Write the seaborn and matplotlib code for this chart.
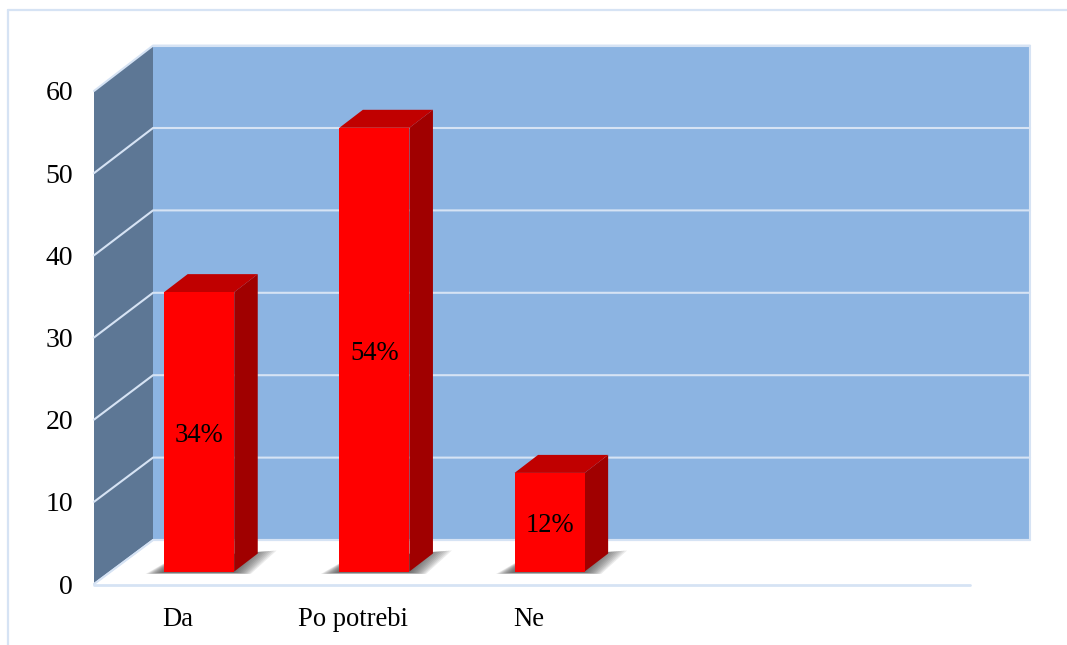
import pandas as pd
import matplotlib
matplotlib.use("Agg")
import matplotlib.pyplot as plt
import seaborn as sns

categories = ['Da', 'Po potrebi', 'Ne']
values = [34, 54, 12]
bar_labels = ['34%', '54%', '12%']
y_ticks = [0, 10, 20, 30, 40, 50, 60]

W, H = 1067, 645
LIGHT = '#d6e3f4'
WALL = '#8cb4e2'
SIDE = '#5d7795'
FONT = 'Liberation Serif'
DEPTH_X, DEPTH_Y = 23.5, 18  # pixels


def place(ax, x0, y0, x1, y1):
    # axes position given in image pixels, y going down
    ax.set_position([x0 / W, 1 - y1 / H, (x1 - x0) / W, (y1 - y0) / H])


sns.set_theme(style='white')
plt.rcParams['font.family'] = [FONT, 'DejaVu Sans']

fig = plt.figure(figsize=(W / 100, H / 100), dpi=100)

# background: walls and floor, drawn in pixel coordinates
bg = fig.add_axes([0, 0, 1, 1], zorder=0)
bg.set_xlim(0, W)
bg.set_ylim(H, 0)
bg.axis('off')
bg.plot([8, 8], [H, 10], color=LIGHT, lw=1.6)
bg.plot([8, W], [10, 10], color=LIGHT, lw=1.6)
bg.fill([153, 1030, 1030, 153], [45.5, 45.5, 540, 540], color=WALL, lw=0)
bg.plot([153, 1030, 1030, 153], [45.5, 45.5, 540, 540], color=LIGHT, lw=1.5)
bg.fill([94, 153, 153, 94], [91, 45.5, 540, 584], color=SIDE, lw=0)
bg.plot([94, 153], [584, 540], color=LIGHT, lw=1.2)
bg.plot([94, 970], [584.5, 584.5], color=LIGHT, lw=2)
for t in y_ticks:
    back_y = 540 - t * 8.24
    front_y = 584 - t * 8.217
    bg.plot([94, 153, 1030], [front_y, back_y, back_y], color=LIGHT, lw=1.5)

# axis labels
frame = fig.add_axes([0, 0, 1, 1], zorder=1)
place(frame, 94, 91, 970, 584)
frame.patch.set_visible(False)
sns.despine(ax=frame, left=True, bottom=True)
frame.set_xlim(-0.48, 4.52)
frame.set_ylim(0, 60)
frame.set_xticks(range(len(categories)), categories)
frame.set_yticks(y_ticks)
frame.tick_params(axis='y', length=0, pad=15, labelsize=20, labelcolor='black')
frame.tick_params(axis='x', length=0, pad=16.5, labelsize=19.2, labelcolor='black')

# bars, sitting a bit inside the floor
ax = fig.add_axes([0, 0, 1, 1], zorder=2)
place(ax, 111.6, 78.5, 987.6, 571.5)
df = pd.DataFrame({'answer': categories, 'value': values})
sns.barplot(data=df, x='answer', y='value', color='#ff0000', saturation=1,
            width=0.4, ax=ax, zorder=5, edgecolor='none', linewidth=0)
ax.patch.set_visible(False)
ax.set_xlim(-0.5, 4.5)
ax.set_ylim(0, 60)
ax.axis('off')

px_x = 5 / 876
px_y = 60 / 493
dx = DEPTH_X * px_x
dy = DEPTH_Y * px_y
for bar in ax.patches:
    x0, x1 = bar.get_x(), bar.get_x() + bar.get_width()
    top = bar.get_height()
    # soft shadow on the floor, stacked from wide to narrow
    for k in range(12):
        grow = (11 - k) * 1.5
        sx0 = x0 - (2 + grow) * px_x
        sx1 = x1 + (16 + grow * 1.6) * px_x
        ax.fill([sx0, x1 + grow * px_x, sx1, x0 + 10 * px_x],
                [-(2.5 - k * 0.12) * px_y, -(2.5 - k * 0.12) * px_y,
                 (21 - k * 0.2) * px_y, (14 - k * 0.2) * px_y],
                color='#404040', alpha=0.1, lw=0, zorder=2, clip_on=False)
    ax.fill([x1, x1 + dx, x1 + dx, x1], [0, dy, top + dy, top],
            color='#a00000', lw=0, zorder=4, clip_on=False)
    ax.fill([x0, x0 + dx, x1 + dx, x1], [top, top + dy, top + dy, top],
            color='#c00000', lw=0, zorder=4, clip_on=False)

texts = ax.bar_label(ax.containers[0], labels=bar_labels, label_type='center',
                     fontsize=19.2, color='black', zorder=6)
for t in texts:
    t.xyann = (0, -2.5)

fig.savefig('out.png', dpi=100)
